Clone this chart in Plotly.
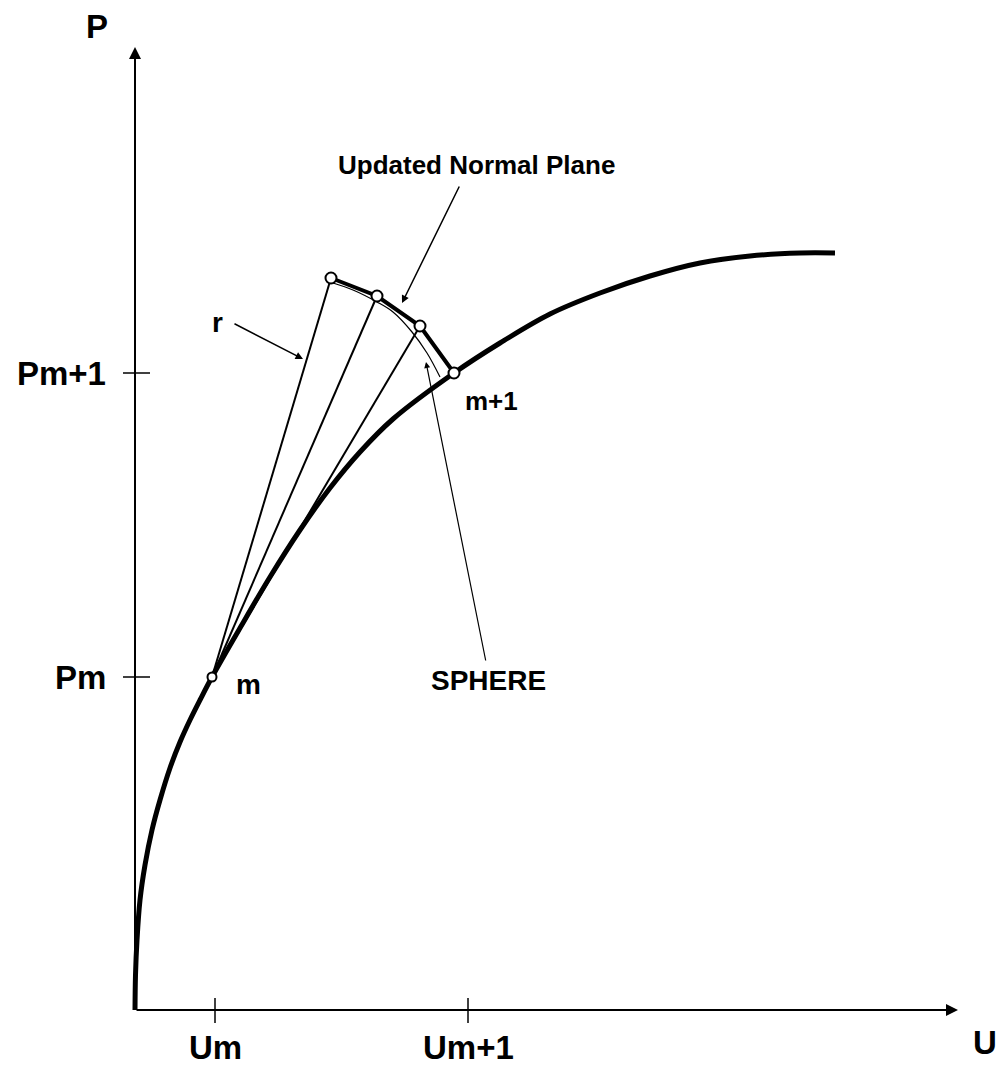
import plotly.graph_objects as go

# Coordinates: U to the right, P upward (origin at the axes' corner)
curve_u = [0, 0.5, 2, 5, 10, 17, 25, 35, 45, 55, 65, 77, 105, 135, 165, 195, 225, 258, 319, 365, 415, 465, 515, 565, 615, 665, 700]
curve_p = [0, 35, 70, 110, 145, 180, 210, 242, 268, 290, 310, 333, 382, 433, 480, 522, 558, 591, 637, 667, 696, 717, 734, 747, 754, 757, 757]

m_point = (77, 333)
plane_u = [196, 242, 285, 319]
plane_p = [732, 714, 684, 637]

sphere_u = [198, 218, 242, 258, 277, 292, 305]
sphere_p = [727, 720, 708, 698, 678, 657, 633]

x_tick_vals = [80, 333]
x_tick_text = ["Um", "Um+1"]
y_tick_vals = [333, 637]
y_tick_text = ["Pm", "Pm+1"]

FONT = "Liberation Sans, Arial, sans-serif"
BLACK = "#000000"

fig = go.Figure()

# thin lines (radius r) from m to normal-plane points
for pu, pp in zip(plane_u[:3], plane_p[:3]):
    fig.add_trace(go.Scatter(x=[m_point[0], pu], y=[m_point[1], pp], mode="lines",
                             line=dict(color=BLACK, width=2), hoverinfo="skip"))

# sphere arc
fig.add_trace(go.Scatter(x=sphere_u, y=sphere_p, mode="lines", line_shape="spline",
                         line=dict(color=BLACK, width=1.2), hoverinfo="skip"))

# main curve
fig.add_trace(go.Scatter(x=curve_u, y=curve_p, mode="lines", line_shape="spline",
                         line=dict(color=BLACK, width=5), hoverinfo="skip"))

# updated normal plane polyline with circles
fig.add_trace(go.Scatter(x=plane_u, y=plane_p, mode="lines+markers",
                         line=dict(color=BLACK, width=4),
                         marker=dict(symbol="circle", size=11, color="white",
                                     line=dict(color=BLACK, width=2)),
                         hoverinfo="skip"))

# point m
fig.add_trace(go.Scatter(x=[m_point[0]], y=[m_point[1]], mode="markers",
                         marker=dict(symbol="circle", size=9, color="white",
                                     line=dict(color=BLACK, width=2)),
                         hoverinfo="skip"))

# tick marks
for v in x_tick_vals:
    fig.add_trace(go.Scatter(x=[v, v], y=[-13, 12], mode="lines",
                             line=dict(color=BLACK, width=1.5), hoverinfo="skip"))
for v in y_tick_vals:
    fig.add_trace(go.Scatter(x=[-12, 15], y=[v, v], mode="lines",
                             line=dict(color=BLACK, width=1.5), hoverinfo="skip"))

annotations = []
# axes with arrows
annotations.append(dict(x=823, y=0, ax=0, ay=0, xref="x", yref="y", axref="x", ayref="y",
                        showarrow=True, arrowhead=2, arrowsize=1.2, arrowwidth=2, arrowcolor=BLACK, text=""))
annotations.append(dict(x=0, y=963, ax=0, ay=0, xref="x", yref="y", axref="x", ayref="y",
                        showarrow=True, arrowhead=2, arrowsize=1.2, arrowwidth=2, arrowcolor=BLACK, text=""))

# tick labels
for v, t in zip(x_tick_vals, x_tick_text):
    annotations.append(dict(x=v, y=-37, xref="x", yref="y", text="<b>" + t + "</b>", showarrow=False,
                            font=dict(family=FONT, size=33, color=BLACK), xanchor="center", yanchor="middle"))
for v, t in zip(y_tick_vals, y_tick_text):
    annotations.append(dict(x=-27, y=v, xref="x", yref="y", text="<b>" + t + "</b>", showarrow=False,
                            font=dict(family=FONT, size=33, color=BLACK), xanchor="right", yanchor="middle"))

# axis titles
annotations.append(dict(x=-38, y=984, xref="x", yref="y", text="<b>P</b>", showarrow=False,
                        font=dict(family=FONT, size=33, color=BLACK)))
annotations.append(dict(x=850, y=-32, xref="x", yref="y", text="<b>U</b>", showarrow=False,
                        font=dict(family=FONT, size=33, color=BLACK)))

# point labels
annotations.append(dict(x=113, y=326, xref="x", yref="y", text="<b>m</b>", showarrow=False,
                        font=dict(family=FONT, size=28, color=BLACK)))
annotations.append(dict(x=356, y=609, xref="x", yref="y", text="<b>m+1</b>", showarrow=False,
                        font=dict(family=FONT, size=26, color=BLACK)))

# callouts
annotations.append(dict(x=267, y=707, ax=325, ay=825, xref="x", yref="y", axref="x", ayref="y",
                        text="", showarrow=True, arrowhead=2, arrowsize=1, arrowwidth=1.5, arrowcolor=BLACK))
annotations.append(dict(x=341, y=845, xref="x", yref="y", text="<b>Updated Normal Plane</b>",
                        showarrow=False, font=dict(family=FONT, size=26, color=BLACK)))

annotations.append(dict(x=168, y=651, ax=98, ay=687, xref="x", yref="y", axref="x", ayref="y",
                        text="", showarrow=True, arrowhead=2, arrowsize=1, arrowwidth=1.5, arrowcolor=BLACK))
annotations.append(dict(x=82, y=688, xref="x", yref="y", text="<b>r</b>", showarrow=False,
                        font=dict(family=FONT, size=28, color=BLACK)))

annotations.append(dict(x=291, y=648, ax=351, ay=348, xref="x", yref="y", axref="x", ayref="y",
                        text="", showarrow=True, arrowhead=2, arrowsize=1, arrowwidth=1.2, arrowcolor=BLACK))
annotations.append(dict(x=353, y=330, xref="x", yref="y", text="<b>SPHERE</b>", showarrow=False,
                        font=dict(family=FONT, size=28, color=BLACK)))

fig.update_layout(
    width=1000, height=1071,
    margin=dict(l=0, r=0, t=0, b=0),
    paper_bgcolor="white", plot_bgcolor="white",
    showlegend=False,
    xaxis=dict(range=[-135, 865], visible=False, fixedrange=True),
    yaxis=dict(range=[-61, 1010], visible=False, fixedrange=True),
    annotations=annotations,
)

fig.write_html(
    "out.html",
    config={"displayModeBar": False},
    post_script="document.body.style.margin='0';document.body.style.padding='0';document.body.style.overflow='hidden';",
)
